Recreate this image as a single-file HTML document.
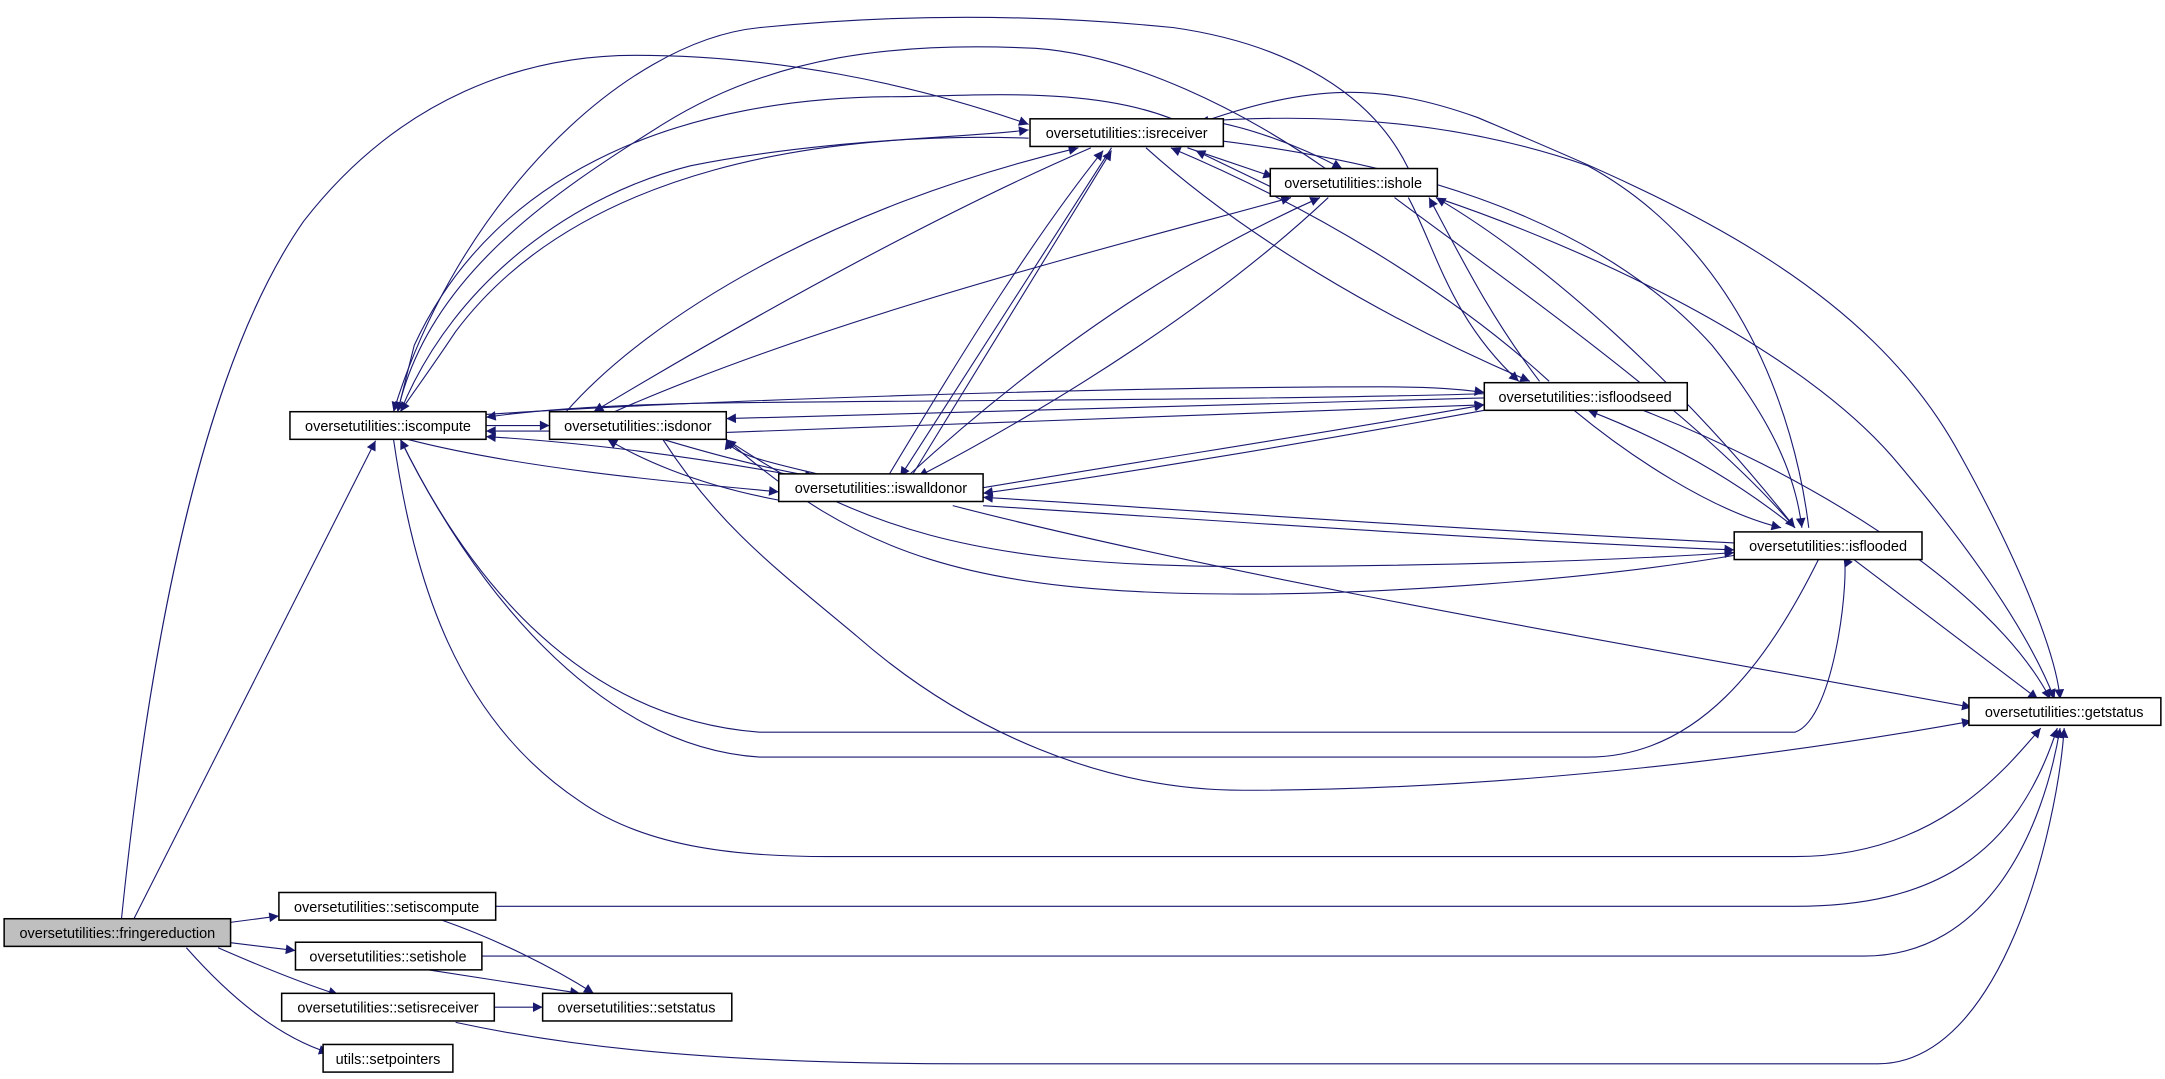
<!DOCTYPE html>
<html><head><meta charset="utf-8"><style>
html,body{margin:0;padding:0;background:#fff;}
svg{display:block;}
text{font-family:"Liberation Sans",sans-serif;font-size:10.5px;fill:#000;}
.e{fill:none;stroke:#191970;stroke-width:0.8;}
.n{fill:#fff;stroke:#000;stroke-width:1.1;}
</style></head><body>
<svg width="2165" height="1079" viewBox="0 0 1568 781" preserveAspectRatio="none" xmlns="http://www.w3.org/2000/svg">
<defs>
<marker id="a" viewBox="0 0 10 10" refX="10" refY="5" markerWidth="8.5" markerHeight="7" markerUnits="userSpaceOnUse" orient="auto">
<path d="M0,0 L10,5 L0,10 z" fill="#191970"/>
</marker>
</defs>
<g class="e" marker-end="url(#a)">
<path d="M97,665 L272,319"/>
<path d="M88,665 C110,450 150,260 220,160 C290,70 380,40 460,40 C560,40 660,60 745,90"/>
<path d="M164,668 L202,663"/>
<path d="M164,682 L214,688"/>
<path d="M158,686 C190,700 220,712 245,720"/>
<path d="M135,686 C165,720 200,750 238,762"/>
<path d="M359,656 L1300,656 C1400,656 1460,620 1490,527"/>
<path d="M320,666 C360,680 400,700 430,719"/>
<path d="M349,692 L1350,692 C1440,692 1480,600 1492,527"/>
<path d="M310,702 L420,719"/>
<path d="M358,729 L393,729"/>
<path d="M330,740 C400,755 500,770 700,770 L1360,770 C1450,770 1490,600 1495,527"/>
<path d="M285,318 C300,420 330,520 420,580 C470,615 540,620 600,620 L1300,620 C1400,620 1450,560 1478,527"/>
<path d="M480,318 C520,380 560,410 620,460 C700,530 800,572 900,572 C1100,572 1300,545 1428,522"/>
<path d="M690,366 C900,420 1200,470 1428,512"/>
<path d="M1340,403 L1476,506"/>
<path d="M1190,297 C1300,340 1440,420 1485,506"/>
<path d="M1040,143 C1150,180 1300,250 1370,330 C1430,400 1470,460 1488,506"/>
<path d="M866,90 C950,60 1000,60 1070,85 C1200,140 1350,200 1420,330 C1470,420 1490,480 1492,506"/>
<path d="M290,298 C330,200 420,140 500,120 C600,100 700,100 745,94"/>
<path d="M745,100 C600,95 420,120 330,240 C310,270 295,290 290,298"/>
<path d="M1020,122 C990,60 920,30 850,20 C750,10 650,10 550,20 C450,30 330,150 285,298"/>
<path d="M960,122 C900,80 820,40 750,35 C650,30 560,40 480,90 C400,140 310,200 288,298"/>
<path d="M862,92 C800,60 700,70 650,70 C500,70 360,120 300,250 L288,298"/>
<path d="M660,345 L805,109"/>
<path d="M643,345 C700,250 750,170 799,109"/>
<path d="M805,107 L652,345"/>
<path d="M410,298 C470,230 600,150 781,107"/>
<path d="M790,107 C690,150 560,220 430,298"/>
<path d="M657,345 C750,260 850,190 956,143"/>
<path d="M962,143 C880,220 770,290 665,345"/>
<path d="M445,298 C600,230 800,180 935,143"/>
<path d="M860,107 L922,128"/>
<path d="M922,136 L866,109"/>
<path d="M866,86 C900,90 940,105 972,122"/>
<path d="M830,107 C900,170 1000,230 1108,276"/>
<path d="M1122,276 C1050,210 950,150 848,107"/>
<path d="M868,100 C1000,115 1150,150 1240,250 C1280,300 1300,340 1305,382"/>
<path d="M1310,382 C1300,300 1260,180 1150,120 C1050,85 950,82 868,88"/>
<path d="M1020,143 C1040,180 1050,230 1100,276"/>
<path d="M1115,276 C1080,230 1060,190 1035,143"/>
<path d="M1010,143 C1100,210 1230,300 1300,382"/>
<path d="M1300,382 C1220,280 1120,190 1040,143"/>
<path d="M1140,297 C1180,330 1240,370 1290,382"/>
<path d="M1300,382 C1260,350 1210,320 1150,297"/>
<path d="M1075,285 C900,290 600,290 500,292 C420,294 380,298 352,302"/>
<path d="M352,300 C500,290 800,280 1000,280 C1040,280 1060,282 1075,284"/>
<path d="M1075,288 L526,303"/>
<path d="M526,313 L1075,293"/>
<path d="M712,353 C850,330 980,310 1075,293"/>
<path d="M1075,297 C950,320 800,345 712,357"/>
<path d="M1256,393 C1000,380 800,365 712,360"/>
<path d="M712,366 C900,378 1100,392 1256,398"/>
<path d="M526,318 C620,380 700,410 900,410 C1050,410 1180,405 1256,400"/>
<path d="M1256,402 C1150,420 1000,430 900,430 C700,430 620,400 526,318"/>
<path d="M290,318 C340,420 420,520 550,530 L1300,530 C1330,520 1340,410 1335,403"/>
<path d="M1318,403 C1280,480 1230,548 1150,548 L550,548 C430,540 340,420 290,318"/>
<path d="M352,308 L398,308"/>
<path d="M398,312 L352,312"/>
<path d="M295,318 C380,340 500,350 564,356"/>
<path d="M580,345 C500,330 420,320 352,316"/>
<path d="M600,345 C560,335 530,330 526,318"/>
<path d="M480,318 C520,330 560,340 590,345"/>
<path d="M564,362 C500,350 460,330 440,318"/>
</g>
<rect class="n" x="3" y="665" width="164" height="20" style="fill:#bfbfbf"/>
<text x="85" y="679" text-anchor="middle">oversetutilities::fringereduction</text>
<rect class="n" x="210" y="298" width="142" height="20"/>
<text x="281" y="312" text-anchor="middle">oversetutilities::iscompute</text>
<rect class="n" x="398" y="298" width="128" height="20"/>
<text x="462" y="312" text-anchor="middle">oversetutilities::isdonor</text>
<rect class="n" x="564" y="343" width="148" height="20"/>
<text x="638" y="357" text-anchor="middle">oversetutilities::iswalldonor</text>
<rect class="n" x="746" y="86" width="140" height="20"/>
<text x="816" y="100" text-anchor="middle">oversetutilities::isreceiver</text>
<rect class="n" x="920" y="122" width="121" height="20"/>
<text x="980" y="136" text-anchor="middle">oversetutilities::ishole</text>
<rect class="n" x="1075" y="277" width="147" height="20"/>
<text x="1148" y="291" text-anchor="middle">oversetutilities::isfloodseed</text>
<rect class="n" x="1256" y="385" width="136" height="20"/>
<text x="1324" y="399" text-anchor="middle">oversetutilities::isflooded</text>
<rect class="n" x="1426" y="505" width="139" height="20"/>
<text x="1495" y="519" text-anchor="middle">oversetutilities::getstatus</text>
<rect class="n" x="202" y="646" width="157" height="20"/>
<text x="280" y="660" text-anchor="middle">oversetutilities::setiscompute</text>
<rect class="n" x="214" y="682" width="135" height="20"/>
<text x="281" y="696" text-anchor="middle">oversetutilities::setishole</text>
<rect class="n" x="204" y="719" width="154" height="20"/>
<text x="281" y="733" text-anchor="middle">oversetutilities::setisreceiver</text>
<rect class="n" x="393" y="719" width="137" height="20"/>
<text x="461" y="733" text-anchor="middle">oversetutilities::setstatus</text>
<rect class="n" x="234" y="756" width="94" height="20"/>
<text x="281" y="770" text-anchor="middle">utils::setpointers</text>
</svg>
</body></html>
